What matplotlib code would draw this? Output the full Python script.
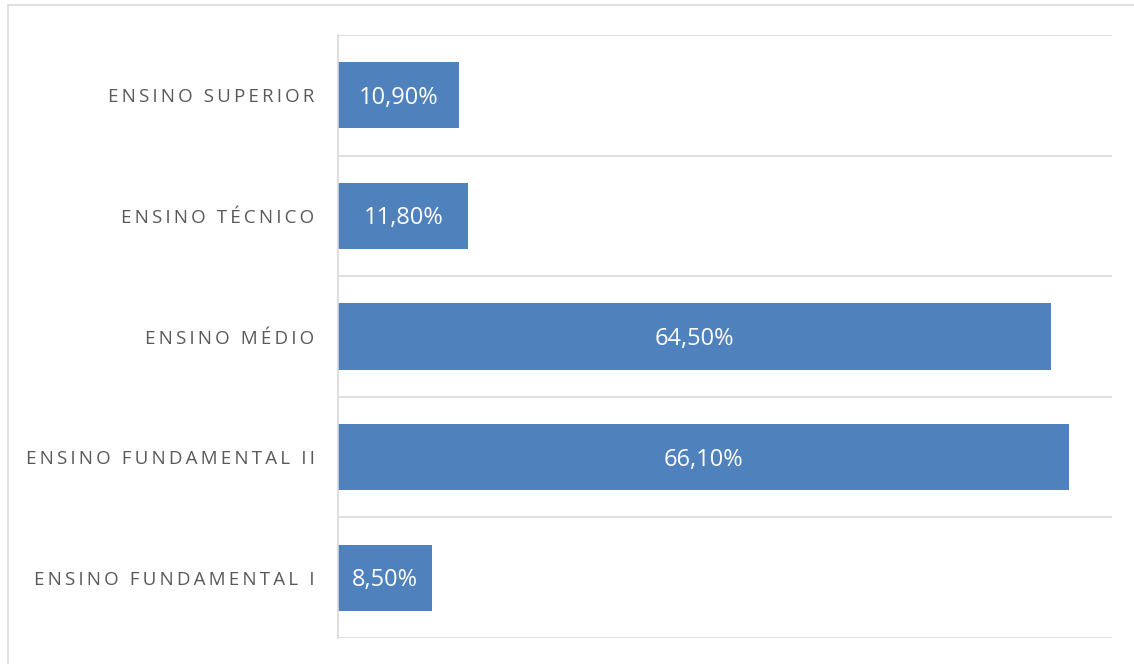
import matplotlib.pyplot as plt
from matplotlib.patches import Rectangle

categories = ["ENSINO FUNDAMENTAL I", "ENSINO FUNDAMENTAL II", "ENSINO MÉDIO",
              "ENSINO TÉCNICO", "ENSINO SUPERIOR"]
values = [8.5, 66.1, 64.5, 11.8, 10.9]
value_labels = ["8,50%", "66,10%", "64,50%", "11,80%", "10,90%"]

plt.rcParams['font.family'] = ['Open Sans', 'DejaVu Sans']

fig = plt.figure(figsize=(11.34, 6.64), dpi=100)
ax = fig.add_axes([338 / 1134, 26 / 664, (1112 - 338) / 1134, (638 - 35) / 664])

# light frame round the chart area
fig.patches.append(Rectangle((8 / 1134, -0.05), 1.2, 659 / 664 + 0.05,
                             transform=fig.transFigure, fill=False,
                             edgecolor="#d9d9d9", linewidth=1.2))

y = range(len(categories))
bars = ax.barh(y, values, height=0.55, color="#4f81bd")
for b, lab in zip(bars, value_labels):
    ax.text(b.get_width() / 2, b.get_y() + b.get_height() / 2 - 0.02, lab,
            ha="center", va="center", color="white", fontsize=17)

ax.set_xlim(0, 70)
ax.set_ylim(-0.5, len(categories) - 0.5)

# gridlines between categories
for g in [i - 0.5 for i in range(len(categories) + 1)]:
    ax.axhline(g, color="#d9d9d9", linewidth=1.2, zorder=0)

spaced = ["\u2009".join(c) for c in categories]
ax.set_yticks(list(y))
ax.set_yticklabels(spaced, color="#595959", fontsize=13.5)
ax.tick_params(axis="y", length=0, pad=17)
ax.set_xticks([])
for s in ["top", "right", "bottom"]:
    ax.spines[s].set_visible(False)
ax.spines["left"].set_color("#d9d9d9")
ax.spines["left"].set_linewidth(1.2)

fig.savefig("out.png", dpi=100)
